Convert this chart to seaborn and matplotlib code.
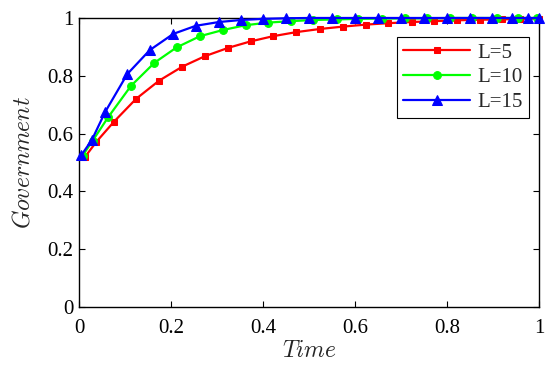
import matplotlib
matplotlib.use("Agg")
import matplotlib.pyplot as plt
import seaborn as sns
import pandas as pd

# Data
t_l5 = [0.013, 0.038, 0.076, 0.124, 0.174, 0.225, 0.274, 0.325, 0.373, 0.422, 0.472,
        0.524, 0.573, 0.623, 0.672, 0.723, 0.772, 0.821, 0.872, 0.920, 0.959, 1.0]
y_l5 = [0.519, 0.572, 0.641, 0.720, 0.783, 0.832, 0.868, 0.897, 0.919, 0.937, 0.951,
        0.962, 0.970, 0.977, 0.982, 0.986, 0.989, 0.992, 0.994, 0.995, 0.997, 0.998]

t_l10 = [0.008, 0.030, 0.064, 0.113, 0.164, 0.212, 0.263, 0.312, 0.362, 0.411, 0.460,
         0.509, 0.560, 0.607, 0.658, 0.709, 0.756, 0.806, 0.854, 0.908, 0.954, 0.995]
y_l10 = [0.524, 0.576, 0.658, 0.765, 0.845, 0.898, 0.937, 0.958, 0.975, 0.984, 0.989,
         0.993, 0.995, 0.997, 0.998, 0.999, 0.999, 1.0, 1.0, 1.0, 1.0, 1.0]

t_l15 = [0.005, 0.028, 0.057, 0.105, 0.154, 0.205, 0.254, 0.304, 0.352, 0.401, 0.450,
         0.501, 0.551, 0.600, 0.651, 0.700, 0.750, 0.799, 0.849, 0.898, 0.942, 0.977, 1.0]
y_l15 = [0.525, 0.578, 0.675, 0.806, 0.889, 0.945, 0.973, 0.986, 0.993, 0.997, 0.999,
         1.0, 1.0, 1.0, 1.0, 1.0, 1.0, 1.0, 1.0, 1.0, 1.0, 1.0, 1.0]

labels = ["L=5", "L=10", "L=15"]
colors = ["#ff0000", "#00ff00", "#0000ff"]
markers = ["s", "o", "^"]
msizes = [4.6, 5.6, 6.6]

x_ticks = [0, 0.2, 0.4, 0.6, 0.8, 1]
y_ticks = [0, 0.2, 0.4, 0.6, 0.8, 1]
tick_labels = ["0", "0.2", "0.4", "0.6", "0.8", "1"]

sns.set_style("ticks")
plt.rcParams["font.family"] = ["Liberation Serif", "DejaVu Serif"]
plt.rcParams["mathtext.fontset"] = "cm"

fig = plt.figure(figsize=(5.5, 3.7), dpi=100)
ax = fig.add_axes([0.1436, 0.1703, 0.8364, 0.7811])

series = [(t_l5, y_l5), (t_l10, y_l10), (t_l15, y_l15)]
for (t, y), lab, c, m, ms in zip(series, labels, colors, markers, msizes):
    df = pd.DataFrame({"Time": t, "Government": y})
    sns.lineplot(data=df, x="Time", y="Government", ax=ax, color=c, marker=m,
                 markersize=ms, markeredgecolor=c, linewidth=1.6, label=lab,
                 clip_on=False, zorder=3)

ax.set_xlim(0, 1)
ax.set_ylim(0, 1)
ax.set_xticks(x_ticks)
ax.set_xticklabels(tick_labels)
ax.set_yticks(y_ticks)
ax.set_yticklabels(tick_labels)
ax.tick_params(direction="in", top=True, right=True, labelsize=15, length=4,
               width=0.8, color="black", labelcolor="black")
ax.tick_params(axis="x", pad=9)
ax.tick_params(axis="y", pad=4)
for s in ax.spines.values():
    s.set_visible(True)
    s.set_color("black")
    s.set_linewidth(1.0)

ax.set_xlabel(r"$Time$", fontsize=17, labelpad=2)
ax.set_ylabel(r"$Government$", fontsize=17, labelpad=9)

leg = ax.legend(loc="upper right", bbox_to_anchor=(0.978, 0.935), fontsize=15,
                frameon=True, fancybox=False, framealpha=1, edgecolor="black",
                handlelength=3.2, borderpad=0.3, labelspacing=0.25,
                handletextpad=0.35, borderaxespad=0)
leg.get_frame().set_linewidth(0.8)

fig.savefig("out.png", dpi=100)
